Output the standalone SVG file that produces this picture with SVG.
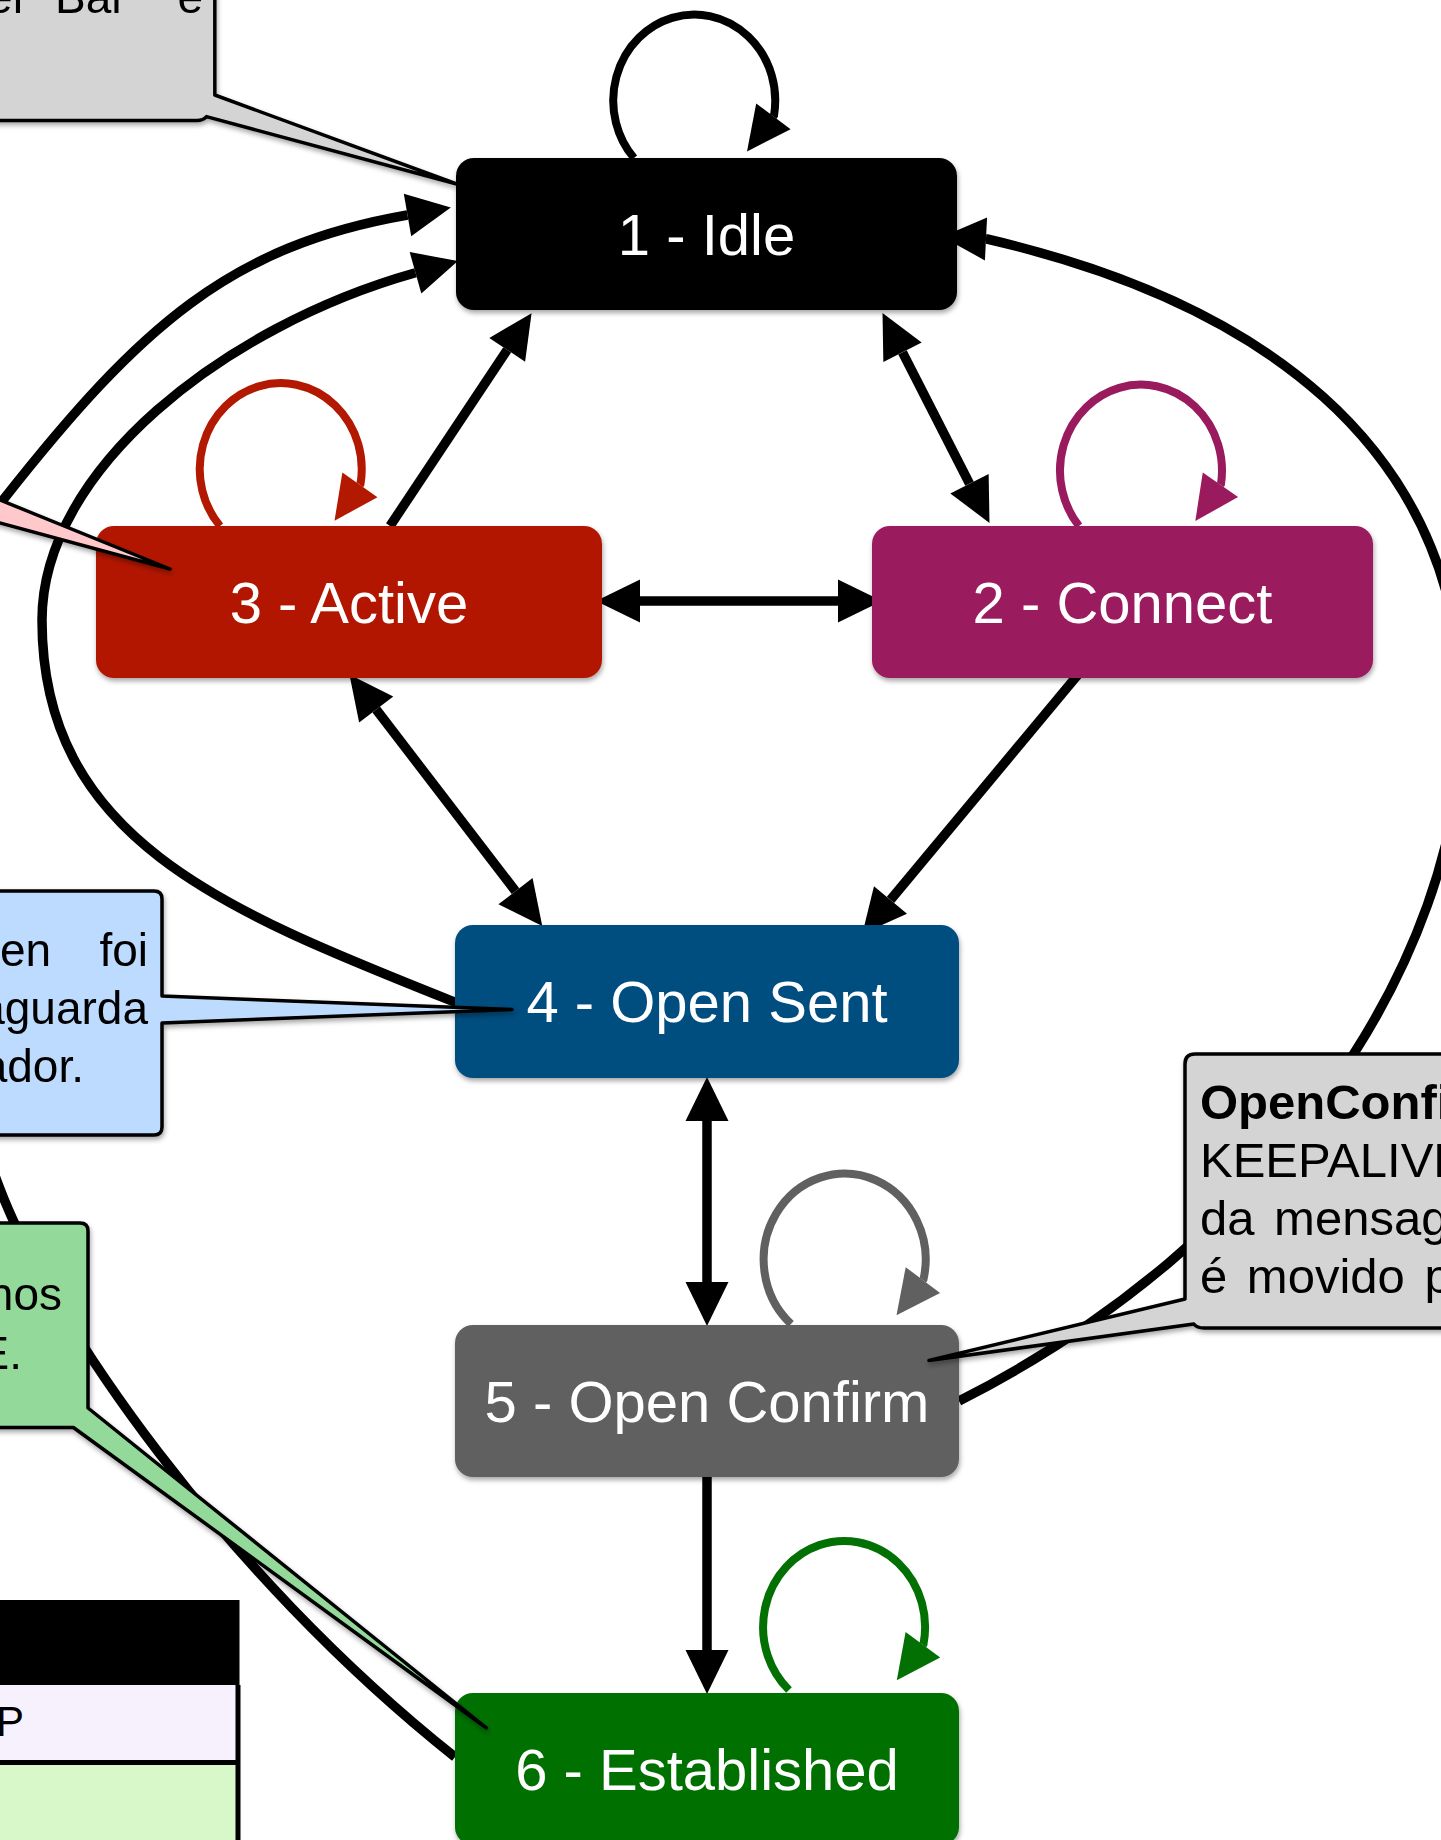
<svg xmlns="http://www.w3.org/2000/svg" width="1441" height="1840" viewBox="0 0 1441 1840">
<defs>
<style>
.node-label{font-family:"Liberation Sans",Arial,Helvetica,sans-serif;font-size:58px;fill:#fff;text-anchor:middle}
.conn{fill:none;stroke:#000;stroke-width:9.5}
.loop{fill:none;stroke-width:8}
.note{stroke:#000;stroke-width:3.5;stroke-linejoin:round}
.note-text{font-family:"Liberation Sans",Arial,Helvetica,sans-serif;font-size:46px;fill:#000}
.big{font-size:49px}
.small{font-size:42px}
.end{text-anchor:end}
</style>
<filter id="sh" x="-10%" y="-10%" width="130%" height="140%">
<feDropShadow dx="1" dy="3" stdDeviation="2.5" flood-color="#000" flood-opacity="0.35"/>
</filter>
<marker id="ah-k" viewBox="0 0 44 43" refX="0" refY="21.5" markerWidth="44" markerHeight="43" markerUnits="userSpaceOnUse" orient="auto-start-reverse" overflow="visible"><path d="M0,0L44,21.5L0,43Z" fill="#000"/></marker>
<marker id="ah-r" viewBox="0 0 44 43" refX="0" refY="21.5" markerWidth="44" markerHeight="43" markerUnits="userSpaceOnUse" orient="auto" overflow="visible"><path d="M0,0L44,21.5L0,43Z" fill="#B31800"/></marker>
<marker id="ah-p" viewBox="0 0 44 43" refX="0" refY="21.5" markerWidth="44" markerHeight="43" markerUnits="userSpaceOnUse" orient="auto" overflow="visible"><path d="M0,0L44,21.5L0,43Z" fill="#9A1A5E"/></marker>
<marker id="ah-g" viewBox="0 0 44 43" refX="0" refY="21.5" markerWidth="44" markerHeight="43" markerUnits="userSpaceOnUse" orient="auto" overflow="visible"><path d="M0,0L44,21.5L0,43Z" fill="#606060"/></marker>
<marker id="ah-e" viewBox="0 0 44 43" refX="0" refY="21.5" markerWidth="44" markerHeight="43" markerUnits="userSpaceOnUse" orient="auto" overflow="visible"><path d="M0,0L44,21.5L0,43Z" fill="#037003"/></marker>
</defs>
<rect width="1441" height="1840" fill="#fff"/>

<g id="connectors">
<path class="conn" d="M902.5,352.3 L969.5,483.7" marker-start="url(#ah-k)" marker-end="url(#ah-k)"/>
<path class="conn" d="M390,526 L507.2,349.8" marker-end="url(#ah-k)"/>
<path class="conn" d="M640,601 L838,601" marker-start="url(#ah-k)" marker-end="url(#ah-k)"/>
<path class="conn" d="M376.2,709.5 L515.5,891.2" marker-start="url(#ah-k)" marker-end="url(#ah-k)"/>
<path class="conn" d="M1081,671 L890.5,899.9" marker-end="url(#ah-k)"/>
<path class="conn" d="M707,1121 L707,1282" marker-start="url(#ah-k)" marker-end="url(#ah-k)"/>
<path class="conn" d="M707,1477 L707,1650" marker-end="url(#ah-k)"/>
<path class="conn" d="M457,1003 C224.5,910.5 42,840 42,620 C42,470 223.5,326.8 415.5,272.8" marker-end="url(#ah-k)"/>
<path class="conn" d="M455,1757 C221,1571 50,1320 0,1189 C-72,1003 -119.4,655 4.6,498 C141,325.3 230,246 407.5,215" marker-end="url(#ah-k)"/>
<path class="conn" d="M959,1401 C1270.5,1243.5 1462,965 1462,715 C1462,440 1250,300 987,239 L986,238.95" marker-end="url(#ah-k)"/>
<path class="loop" stroke="#000" d="M634,158 A81,86 0 1 1 774,115.5 l-0.6,0.8" marker-end="url(#ah-k)"/>
<path class="loop" stroke="#B31800" d="M220,526 A81,86 0 1 1 360.5,484 l-0.58,0.82" marker-end="url(#ah-r)"/>
<path class="loop" stroke="#9A1A5E" d="M1079,526 A81,86 0 1 1 1221,484 l-0.57,0.82" marker-end="url(#ah-p)"/>
<path class="loop" stroke="#606060" d="M791,1324 A81,86 0 1 1 923.5,1279.3 l-0.6,0.8" marker-end="url(#ah-g)"/>
<path class="loop" stroke="#037003" d="M789,1690 A81,86 0 1 1 923.5,1644 l-0.59,0.8" marker-end="url(#ah-e)"/>
</g>

<g id="node-idle" filter="url(#sh)">
<rect x="456" y="158" width="501" height="152" rx="18" fill="#000"/>
<text class="node-label" x="706.5" y="255">1 - Idle</text>
</g>
<g id="node-active" filter="url(#sh)">
<rect x="96" y="526" width="506" height="152" rx="18" fill="#B31800"/>
<text class="node-label" x="349" y="623">3 - Active</text>
</g>
<g id="node-connect" filter="url(#sh)">
<rect x="872" y="526" width="501" height="152" rx="18" fill="#9A1A5E"/>
<text class="node-label" x="1122.5" y="623">2 - Connect</text>
</g>
<g id="node-opensent" filter="url(#sh)">
<rect x="455" y="925" width="504" height="153" rx="18" fill="#034E7F"/>
<text class="node-label" x="707" y="1022">4 - Open Sent</text>
</g>
<g id="node-openconfirm" filter="url(#sh)">
<rect x="455" y="1325" width="504" height="152" rx="18" fill="#606060"/>
<text class="node-label" x="707" y="1422">5 - Open Confirm</text>
</g>
<g id="node-established" filter="url(#sh)">
<rect x="455" y="1693" width="504" height="152" rx="18" fill="#037003"/>
<text class="node-label" x="707" y="1790">6 - Established</text>
</g>

<g id="callout-idle" filter="url(#sh)">
<path class="note" fill="#D4D4D4" d="M-10,-10 H214.8 V95 L456.7,184 L206.5,116.6 Q203,120.5 197,120.5 H-10 Z"/>
<text class="note-text end" x="28" y="13">er</text>
<text class="note-text" x="55" y="13">Bar</text>
<text class="note-text end" x="203" y="13">e</text>
</g>
<g id="callout-active" filter="url(#sh)">
<path class="note" fill="#FFC9CC" d="M-20,491.9 L170,569 L-20,517.6 Z"/>
</g>
<g id="callout-opensent" filter="url(#sh)">
<path class="note" fill="#BDDBFF" d="M-10,891 H154 Q162,891 162,899 V996 L512,1009.5 L162,1023 V1127 Q162,1135 154,1135 H-10 Z"/>
<text class="note-text" x="0" y="966">en</text>
<text class="note-text end" x="148" y="966">foi</text>
<text class="note-text end" x="148" y="1024">aguarda</text>
<text class="note-text end" x="84" y="1082">ador.</text>
</g>
<g id="callout-established" filter="url(#sh)">
<path class="note" fill="#93D999" d="M-10,1223 H80 Q88,1223 88,1231 V1408 L486.5,1728 L73.4,1427.5 H-10 Z"/>
<text class="note-text end" x="62" y="1310">nos</text>
<text class="note-text end" x="22" y="1369">E.</text>
</g>
<g id="callout-openconfirm" filter="url(#sh)">
<path class="note" fill="#D4D4D4" d="M1451,1054 H1195 Q1185,1054 1185,1064 V1299 L929,1360.5 L1193.8,1324 Q1197,1328 1204,1328 H1451 Z"/>
<text class="note-text big" x="1200" y="1119" font-weight="bold">OpenConfi</text>
<text class="note-text big" x="1200" y="1177">KEEPALIVE</text>
<text class="note-text big" x="1200" y="1235" word-spacing="6">da mensag</text>
<text class="note-text big" x="1200" y="1293" word-spacing="6">é movido p</text>
</g>

<g id="table">
<rect x="-10" y="1600" width="249.5" height="85" fill="#000"/>
<rect x="-10" y="1685" width="248" height="77" fill="#F6F1FD"/>
<rect x="-10" y="1764" width="248" height="90" fill="#D8F8CA"/>
<path d="M-10,1762.5 H240 M238,1685 V1850" stroke="#000" stroke-width="5" fill="none"/>
<text class="note-text small" x="-4" y="1736">P</text>
</g>
</svg>
